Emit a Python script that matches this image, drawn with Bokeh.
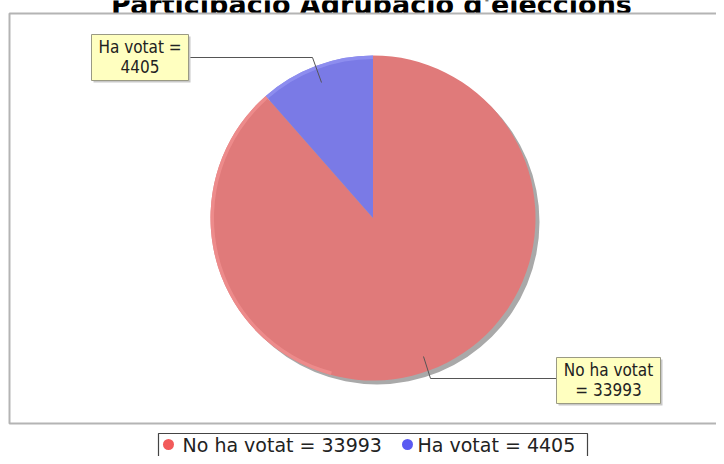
import math
from bokeh.plotting import figure
from bokeh.models import Range1d
from bokeh.embed import file_html
from bokeh.resources import INLINE
from bokeh.core.properties import value

title = "Participació Agrupació d'eleccions"
categories = ["No ha votat", "Ha votat"]
votes = [33993, 4405]
slice_colors = ["#E07A7A", "#7A7AE6"]
rim_colors = ["#EE8E8E", "#9090F0"]
legend_colors = ["#F25A5A", "#5A5AF2"]
label_lines = [["No ha votat", "= 33993"], ["Ha votat =", "4405"]]
legend_labels = [f"{c} = {v}" for c, v in zip(categories, votes)]

W, H = 716, 456
p = figure(width=W, height=H, output_backend="svg", toolbar_location=None,
           x_range=Range1d(0, W), y_range=Range1d(H, 0), min_border=0,
           x_axis_location=None, y_axis_location=None)
p.grid.visible = False
p.outline_line_color = None
p.background_fill_color = "white"
p.border_fill_color = "white"

# title (cut off at the top, as in the reference)
p.text(x=[371], y=[4], text=[title], text_align="center", text_baseline="alphabetic",
       text_font=value("DejaVu Sans"), text_font_style="bold", text_font_size="27px",
       text_color="black")

# plot frame
p.quad(left=[9], right=[760], top=[13], bottom=[423], fill_color="white",
       line_color="#B4B4B4", line_width=2)

# pie (starts at 12 o'clock, clockwise)
cx, cy, r = 372.5, 217.5, 162.5
total = sum(votes)
starts, ends = [], []
ang = 90.0
for v in votes:
    sweep = 360.0 * v / total
    starts.append(math.radians(ang - sweep))
    ends.append(math.radians(ang))
    ang -= sweep

p.wedge(x=[cx + 4], y=[cy + 4], radius=r, start_angle=0, end_angle=2 * math.pi,
        fill_color="#A9A9A9", line_color=None)
p.wedge(x=[cx] * len(votes), y=[cy] * len(votes), radius=r, start_angle=starts,
        end_angle=ends, fill_color=slice_colors, line_color=None)
# light rim on the upper-left edge (gradient look)
rim_start = [ends[1], starts[1]]
rim_end = [math.radians(-105), ends[1]]
p.annular_wedge(x=[cx] * len(votes), y=[cy] * len(votes), inner_radius=r - 3.5,
                outer_radius=r, start_angle=rim_start, end_angle=rim_end,
                fill_color=rim_colors, line_color=None, fill_alpha=0.85)

# leader lines
p.line(x=[188, 312, 321], y=[57, 57, 82], line_color="#555555", line_width=1)
p.line(x=[556, 430, 423], y=[378, 378, 356], line_color="#555555", line_width=1)

# label boxes
boxes = [(556, 660, 357, 403), (91, 188, 34, 80)]
for (l, rr, t, b) in boxes:
    p.quad(left=[l + 2], right=[rr + 2], top=[t + 2], bottom=[b + 2],
           fill_color="#C8C8C8", line_color=None)
    p.quad(left=[l], right=[rr], top=[t], bottom=[b], fill_color="#FFFFC0",
           line_color="#9A9A84", line_width=1)
for (l, rr, t, b), lines in zip(boxes, label_lines):
    xc = (l + rr) / 2
    p.text(x=[xc, xc], y=[t + 12, t + 32], text=lines, text_align="center",
           text_baseline="middle", text_font=value("DejaVu Sans Condensed"),
           text_font_size="17px", text_color="#222222")

# legend
p.quad(left=[158], right=[587], top=[433], bottom=[470], fill_color="white",
       line_color="#444444", line_width=1.2)
p.scatter(x=[168, 407], y=[444, 444], size=11, fill_color=legend_colors,
          line_color=None, marker="circle")
p.text(x=[182, 417], y=[444, 444], text=legend_labels, text_align="left",
       text_baseline="middle", text_font=value("DejaVu Sans"), text_font_size="19px",
       text_color="#222222")

open("out.html", "w").write(file_html(p, INLINE))
